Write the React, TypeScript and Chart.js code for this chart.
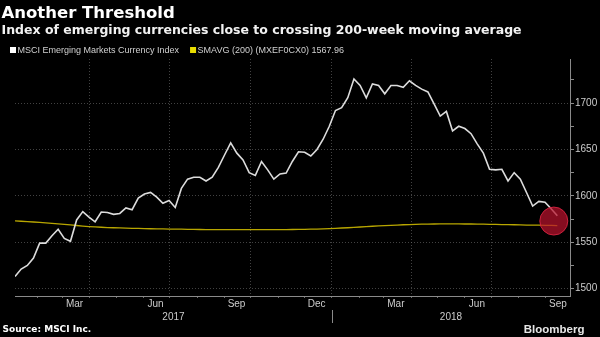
import React, { useEffect, useRef } from 'react';
import { Chart, registerables } from 'chart.js';

Chart.register(...registerables);

const TITLE = 'Another Threshold';
const SUBTITLE = 'Index of emerging currencies close to crossing 200-week moving average';
const SOURCE = 'Source: MSCI Inc.';
const BRAND = 'Bloomberg';

const seriesNames = ['MSCI Emerging Markets Currency Index', 'SMAVG (200) (MXEF0CX0) 1567.96'];

// weekly observations (Fridays), first one:
const FIRST_WEEK = '2017-01-06';

const msciValues = [
  1513, 1521, 1525, 1533, 1549, 1549, 1557, 1564, 1554, 1551,
  1574, 1583, 1577, 1572, 1582.5, 1582, 1580, 1581, 1587, 1585,
  1597.5, 1602, 1603.6, 1598.6, 1592, 1595, 1587.5, 1608, 1618, 1620,
  1620, 1616, 1620, 1630.7, 1644, 1657, 1646, 1638.6, 1625, 1622,
  1637, 1628, 1618, 1623.6, 1624.5, 1637, 1647.5, 1647, 1643, 1650,
  1661, 1675, 1692, 1695, 1705.7, 1726, 1719, 1705.7, 1720.7, 1719,
  1710, 1719, 1719, 1717, 1724, 1719, 1715, 1712, 1699, 1686,
  1691, 1670, 1675, 1672.5, 1667, 1656, 1646, 1628.6, 1628, 1628.6,
  1616, 1625, 1618, 1603.6, 1589, 1594, 1593, 1586, 1578.6,
];

const smavgValues = [
  1573.0, 1572.6, 1572.2, 1571.8, 1571.3, 1570.8, 1570.3, 1569.8, 1569.2, 1568.6,
  1568.0, 1567.4, 1566.9, 1566.5, 1566.1, 1565.8, 1565.6, 1565.4, 1565.2, 1565.0,
  1564.8, 1564.6, 1564.5, 1564.4, 1564.3, 1564.2, 1564.1, 1564.0, 1563.9, 1563.8,
  1563.7, 1563.6, 1563.6, 1563.5, 1563.5, 1563.5, 1563.5, 1563.5, 1563.5, 1563.5,
  1563.5, 1563.5, 1563.5, 1563.6, 1563.6, 1563.7, 1563.8, 1563.9, 1564.0, 1564.2,
  1564.4, 1564.7, 1565.0, 1565.3, 1565.6, 1566.0, 1566.4, 1566.8, 1567.2, 1567.6,
  1567.9, 1568.2, 1568.5, 1568.8, 1569.0, 1569.2, 1569.4, 1569.5, 1569.6, 1569.7,
  1569.7, 1569.7, 1569.7, 1569.6, 1569.6, 1569.5, 1569.4, 1569.3, 1569.2, 1569.0,
  1568.9, 1568.8, 1568.6, 1568.5, 1568.4, 1568.3, 1568.2, 1568.1, 1567.96,
];

const highlightDate = '2018-09-10';
const highlightValue = 1572.8;

const monthNames = ['Jan', 'Feb', 'Mar', 'Apr', 'May', 'Jun', 'Jul', 'Aug', 'Sep', 'Oct', 'Nov', 'Dec'];
const labelledMonths = [2, 5, 8, 11]; // Mar, Jun, Sep, Dec
const gridMonths = [0, 3, 6, 9]; // quarter starts
const years = [2017, 2018];
const yearSplit = '2018-01-01';

const xStartDate = '2017-01-06';
const xEndDate = '2018-09-29';
const yMin = 1492;
const yMax = 1747.5;
const yTicks = [1500, 1525, 1550, 1575, 1600, 1625, 1650, 1675, 1700, 1725];
const yLabelStep = 50;

const ORIGIN = Date.UTC(2017, 0, 1);
const dayOf = (s: string) => (Date.parse(s + 'T00:00:00Z') - ORIGIN) / 86400000;

const GRID = 'rgba(110,110,110,0.6)';
const AXIS = '#8a8a8a';
const TICK = '#6a6a6a';

export default function App() {
  const ref = useRef<HTMLCanvasElement | null>(null);

  useEffect(() => {
    document.body.style.margin = '0';
    document.body.style.background = '#000';
    const canvas = ref.current;
    if (!canvas) return;

    const firstDay = dayOf(FIRST_WEEK);
    const msciData = msciValues.map((v, i) => ({ x: firstDay + 7 * i, y: v }));
    const smavgData = smavgValues.map((v, i) => ({ x: firstDay + 7 * i, y: v }));

    const xMin = dayOf(xStartDate);
    const xMax = dayOf(xEndDate) - 0.6;

    const monthTicks: { value: number; month: number }[] = [];
    for (const y of years) {
      for (let m = 0; m < 12; m++) {
        const d = (Date.UTC(y, m, 1) - ORIGIN) / 86400000;
        if (d >= xMin && d <= xMax) monthTicks.push({ value: d, month: m });
      }
    }
    const monthOf = (v: number) => {
      const t = monthTicks.find((mt) => Math.abs(mt.value - v) < 0.01);
      return t ? t.month : -1;
    };

    const decor = {
      id: 'decor',
      beforeDraw(chart: any) {
        const c = chart.ctx;
        c.save();
        c.fillStyle = '#000';
        c.fillRect(0, 0, chart.width, chart.height);
        c.restore();
      },
      afterDraw(chart: any) {
        const c = chart.ctx;
        const area = chart.chartArea;
        const xs = chart.scales.x;
        c.save();
        // titles
        c.textAlign = 'left';
        c.textBaseline = 'alphabetic';
        c.fillStyle = '#ffffff';
        c.font = 'bold 16.5px "DejaVu Sans"';
        c.fillText(TITLE, 1.5, 18.3);
        c.font = 'bold 12.5px "DejaVu Sans"';
        c.fillStyle = '#f2f2f2';
        c.fillText(SUBTITLE, 1.5, 33.5);

        // legend
        c.font = '9px "Liberation Sans"';
        c.textBaseline = 'middle';
        let lx = 10;
        const ly = 50;
        chart.data.datasets.forEach((ds: any) => {
          if (!ds.label) return;
          c.fillStyle = ds.legendColor;
          c.fillRect(lx, ly - 3, 6, 6);
          c.fillStyle = '#d0d0d0';
          c.fillText(ds.label, lx + 7.5, ly + 0.5);
          lx += 7.5 + c.measureText(ds.label).width + 11;
        });

        // year labels + separator
        const sep = xs.getPixelForValue(dayOf(yearSplit));
        c.strokeStyle = AXIS;
        c.lineWidth = 1;
        c.beginPath();
        c.moveTo(Math.round(sep) + 0.5, 310);
        c.lineTo(Math.round(sep) + 0.5, 323);
        c.stroke();
        c.font = '10px "Liberation Sans"';
        c.fillStyle = '#cccccc';
        c.textAlign = 'center';
        c.fillText(String(years[0]), (area.left + sep) / 2, 317);
        c.fillText(String(years[1]), (sep + area.right) / 2, 317);

        // footer
        c.textAlign = 'left';
        c.fillStyle = '#ffffff';
        c.font = 'bold 9px "DejaVu Sans"';
        c.fillText(SOURCE, 2.5, 329.5);
        c.textAlign = 'right';
        c.fillStyle = '#e6e6e6';
        c.font = 'bold 11.5px "Liberation Sans"';
        c.fillText(BRAND, 584.5, 329.5);
        c.restore();
      },
    };

    const chart = new Chart(canvas, {
      type: 'line',
      data: {
        datasets: [
          {
            type: 'scatter',
            data: [{ x: dayOf(highlightDate), y: highlightValue }],
            pointRadius: 14,
            pointHoverRadius: 14,
            backgroundColor: 'rgba(185,18,45,0.72)',
            borderColor: 'rgba(215,35,65,0.9)',
            borderWidth: 1,
            order: 0,
          } as any,
          {
            label: seriesNames[0],
            data: msciData,
            borderColor: '#dcdcdc',
            legendColor: '#ffffff',
            borderWidth: 1.6,
            pointRadius: 0,
            tension: 0,
            order: 1,
          } as any,
          {
            label: seriesNames[1],
            data: smavgData,
            borderColor: '#b8a600',
            legendColor: '#e8dc00',
            borderWidth: 1.3,
            pointRadius: 0,
            tension: 0,
            order: 2,
          } as any,
        ],
      },
      options: {
        responsive: false,
        animation: false,
        events: [],
        layout: { padding: { top: 59, left: 0, right: 0, bottom: 0 } },
        plugins: {
          legend: { display: false },
          tooltip: { enabled: false },
          title: { display: false },
        },
        scales: {
          x: {
            type: 'linear',
            position: 'bottom',
            min: xMin,
            max: xMax,
            afterBuildTicks: (s: any) => {
              s.ticks = monthTicks.map((t) => ({ value: t.value }));
            },
            afterFit: (s: any) => {
              s.height = 41;
            },
            grid: {
              color: (ctx: any) =>
                ctx.tick && gridMonths.includes(monthOf(ctx.tick.value)) ? GRID : 'rgba(0,0,0,0)',
              lineWidth: 1,
              drawTicks: true,
              tickLength: 2,
              tickColor: TICK,
              tickWidth: 1,
            },
            border: { display: true, color: AXIS, width: 1, dash: [1, 2] },
            ticks: {
              autoSkip: false,
              maxRotation: 0,
              minRotation: 0,
              labelOffset: 12,
              padding: 0,
              color: '#cccccc',
              font: { family: 'Liberation Sans', size: 10 },
              callback: (v: any) => {
                const m = monthOf(Number(v));
                return labelledMonths.includes(m) ? monthNames[m] : '';
              },
            },
          },
          y: {
            type: 'linear',
            position: 'right',
            min: yMin,
            max: yMax,
            afterBuildTicks: (s: any) => {
              s.ticks = yTicks.map((v) => ({ value: v }));
            },
            afterFit: (s: any) => {
              s.width = 30;
            },
            grid: {
              color: (ctx: any) =>
                ctx.tick && ctx.tick.value % yLabelStep === 0 ? GRID : 'rgba(0,0,0,0)',
              lineWidth: 1,
              drawTicks: true,
              tickLength: 4,
              tickColor: AXIS,
            },
            border: { display: true, color: AXIS, width: 1, dash: [1, 2] },
            ticks: {
              padding: 1,
              color: '#cccccc',
              font: { family: 'Liberation Sans', size: 10 },
              callback: (v: any) => (Number(v) % yLabelStep === 0 ? String(v) : ''),
            },
          },
        },
      } as any,
      plugins: [decor],
    });

    return () => chart.destroy();
  }, []);

  return (
    <div style={{ width: 600, height: 337, background: '#000' }}>
      <canvas ref={ref} width={600} height={337} style={{ display: 'block' }} />
    </div>
  );
}
